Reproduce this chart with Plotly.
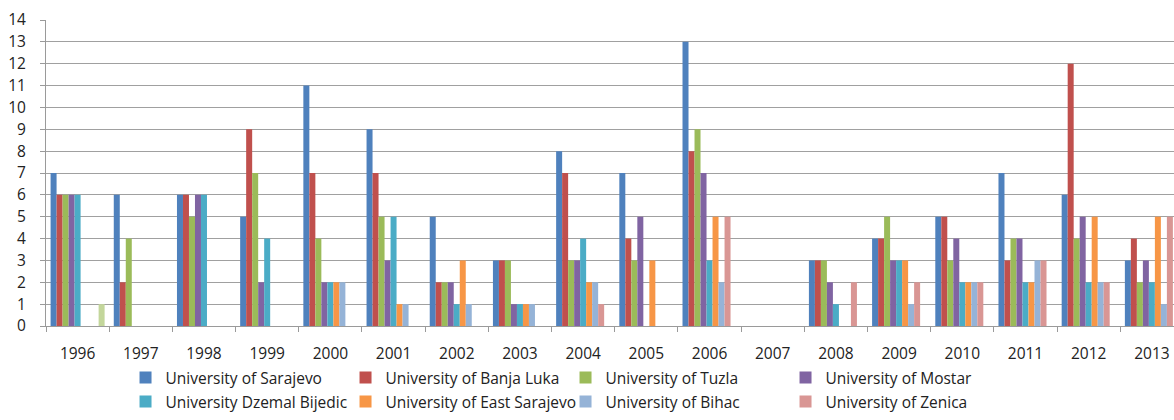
import plotly.graph_objects as go

years = ["1996", "1997", "1998", "1999", "2000", "2001", "2002", "2003", "2004",
         "2005", "2006", "2007", "2008", "2009", "2010", "2011", "2012", "2013"]

sarajevo      = [7, 6, 6, 5, 11, 9, 5, 3, 8, 7, 13, 0, 3, 4, 5, 7, 6, 3]
banja_luka    = [6, 2, 6, 9, 7, 7, 2, 3, 7, 4, 8, 0, 3, 4, 5, 3, 12, 4]
tuzla         = [6, 4, 5, 7, 4, 5, 2, 3, 3, 3, 9, 0, 3, 5, 3, 4, 4, 2]
mostar        = [6, 0, 6, 2, 2, 3, 2, 1, 3, 5, 7, 0, 2, 3, 4, 4, 5, 3]
dzemal        = [6, 0, 6, 4, 2, 5, 1, 1, 4, 0, 3, 0, 1, 3, 2, 2, 2, 2]
east_sarajevo = [0, 0, 0, 0, 2, 1, 3, 1, 2, 3, 5, 0, 0, 3, 2, 2, 5, 5]
bihac         = [0, 0, 0, 0, 2, 1, 1, 1, 2, 0, 2, 0, 0, 1, 2, 3, 2, 1]
zenica        = [0, 0, 0, 0, 0, 0, 0, 0, 1, 0, 5, 0, 2, 2, 2, 3, 2, 5]
other         = [1, 0, 0, 0, 0, 0, 0, 0, 0, 0, 0, 0, 0, 0, 0, 0, 0, 0]

# (name, values, colour, legend row)
series = [
    ("University of Sarajevo", sarajevo, "#4F81BD", "legend"),
    ("University of Banja Luka", banja_luka, "#C0504D", "legend"),
    ("University of Tuzla", tuzla, "#9BBB59", "legend"),
    ("University of Mostar", mostar, "#8064A2", "legend"),
    ("University Dzemal Bijedic", dzemal, "#4BACC6", "legend2"),
    ("University of East Sarajevo", east_sarajevo, "#F79646", "legend2"),
    ("University of Bihac", bihac, "#95B3D7", "legend2"),
    ("University of Zenica", zenica, "#D99694", "legend2"),
    ("Other", other, "#C3D69B", None),
]

fig = go.Figure()
for name, vals, color, leg in series:
    fig.add_trace(go.Bar(x=years, y=vals, name=name, marker_color=color,
                         marker_line_width=0, showlegend=leg is not None,
                         legend=leg if leg else "legend"))

font = "'Open Sans', sans-serif"
legend_common = dict(orientation="h", x=0.0705, xanchor="left", yanchor="middle",
                     entrywidth=175, entrywidthmode="pixels", traceorder="normal",
                     font=dict(size=15.5, color="#222222"), itemwidth=30,
                     bgcolor="rgba(0,0,0,0)")
fig.update_layout(
    width=1174, height=420,
    margin=dict(l=46, r=0, t=20, b=94),
    paper_bgcolor="white", plot_bgcolor="white",
    barmode="group", bargap=0.145, bargroupgap=0,
    font=dict(family=font, size=15.5, color="#222222"),
    legend=dict(y=-0.170, **legend_common),
    legend2=dict(y=-0.248, **legend_common),
    xaxis=dict(type="category", range=[-0.5, 17.35], showgrid=False,
               showline=True, linecolor="#9A9A9A", linewidth=1,
               ticks="outside", tickson="boundaries", ticklen=5, tickcolor="#9A9A9A",
               ticklabelstandoff=13, tickfont=dict(size=15.5), automargin=False),
    yaxis=dict(range=[0, 14], dtick=1, showgrid=True, gridcolor="#A0A0A0", gridwidth=1,
               showline=True, linecolor="#9A9A9A", linewidth=1,
               ticks="outside", ticklen=5, tickcolor="#9A9A9A",
               ticklabelstandoff=11, tickfont=dict(size=15.5), zeroline=False,
               automargin=False),
)

fig.write_html(
    "out.html",
    config={"displayModeBar": False},
    post_script="document.body.style.margin='0';document.body.style.overflow='hidden';",
)
